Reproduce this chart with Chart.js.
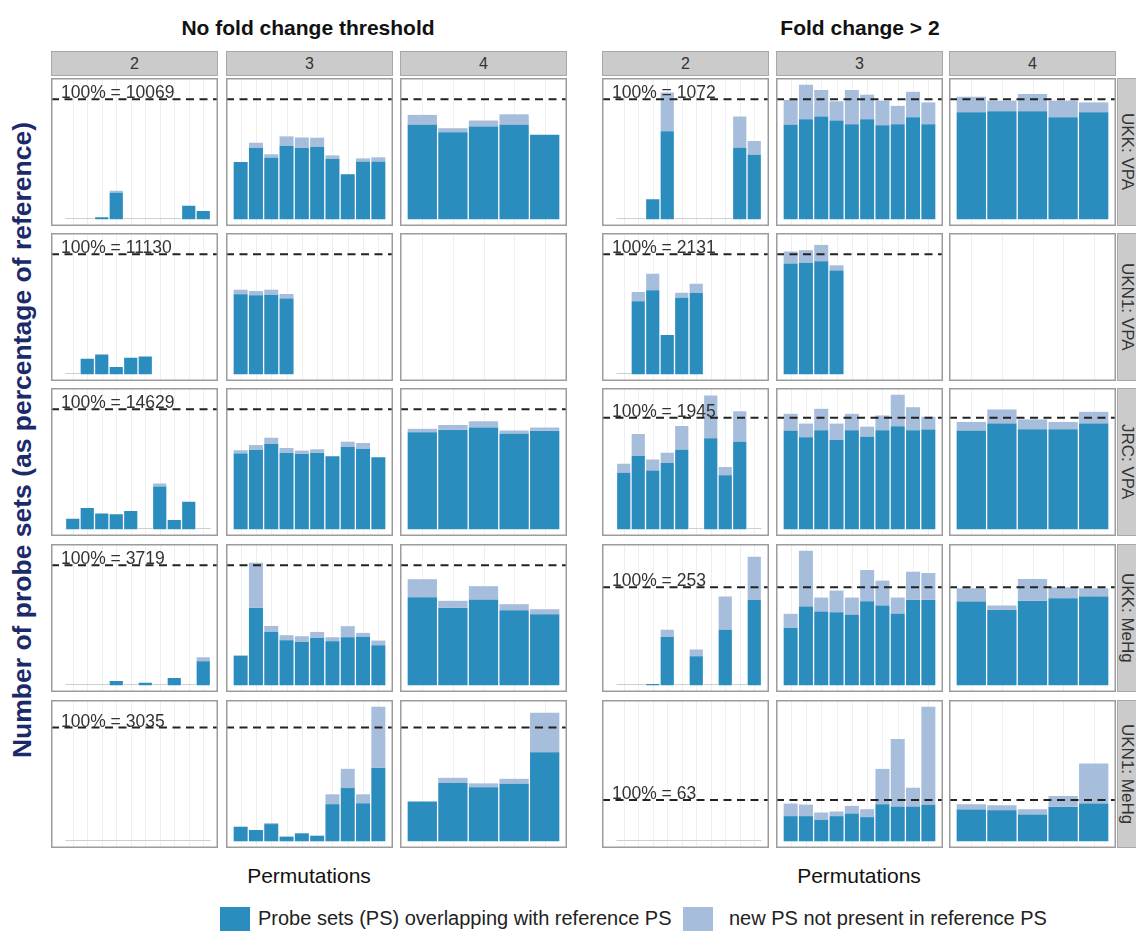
<!DOCTYPE html>
<html><head><meta charset="utf-8">
<script src="https://cdn.jsdelivr.net/npm/chart.js@4"></script>
<style>
html,body{margin:0;padding:0}
body{width:1136px;height:931px;overflow:hidden;background:#fff;font-family:"Liberation Sans",Arial,Helvetica,sans-serif;position:relative;color:#222}
.abs{position:absolute}
.strip{position:absolute;background:#cbcbcb;border:1px solid #a8a8a8;box-sizing:border-box;color:#333;font-size:16px;display:flex;align-items:center;justify-content:center}
.vstrip{writing-mode:vertical-rl;font-size:17px}
.panel{position:absolute}
.panel canvas{display:block}
.ttl{position:absolute;font-weight:bold;font-size:21px;text-align:center;color:#111}
.xl{position:absolute;font-size:21px;text-align:center;color:#111}
.lg{position:absolute;font-size:20px;color:#222;white-space:nowrap}
</style>
</head><body>
<script>
// ---------- DATA ----------
const permutationSizes = ['2', '3', '4'];
const groups = ['UKK: VPA', 'UKN1: VPA', 'JRC: VPA', 'UKK: MeHg', 'UKN1: MeHg'];
const halfTitles = ['No fold change threshold', 'Fold change > 2'];
const refCountsNoFC = [10069, 11130, 14629, 3719, 3035];
const refCountsFC2 = [1072, 2131, 1945, 253, 63];
const permLabels2 = ['P1','P2','P3','P4','P5','P6','P7','P8','P9','P10'];
const permLabels3 = ['P1','P2','P3','P4','P5','P6','P7','P8','P9','P10'];
const permLabels4 = ['P1','P2','P3','P4','P5'];
const seriesNames = ['Probe sets (PS) overlapping with reference PS', 'new PS not present in reference PS'];

// values in % of reference; [size 2 (10), size 3 (10), size 4 (5)]; null = no permutation
const noFC_UKK_VPA_overlap = [[0,0,1.6,22,0,0,0,0,11.3,6.9],[47.7,59.3,51.3,61.3,59.3,60.4,50.2,37.5,48,48],[78.6,72.5,77.2,78.6,70.4]];
const noFC_UKK_VPA_new     = [[0,0,0,1.7,0,0,0,0,0,0],[0,4.4,2.8,7.7,8.8,7.5,3,0,2.7,3.6],[8.3,3.3,5,8.8,0]];
const noFC_UKN1_VPA_overlap = [[0,12.9,16.4,6,13.7,14.8,null,null,null,null],[66.6,65.8,66.3,63,null,null,null,null,null,null],[null,null,null,null,null]];
const noFC_UKN1_VPA_new     = [[0,0,0,0,0,0,null,null,null,null],[3.8,3.5,4.1,3.8,null,null,null,null,null,null],[null,null,null,null,null]];
const noFC_JRC_VPA_overlap = [[8.8,17.8,13.2,12.6,15.3,0,35.6,7.7,23,0],[63,66.3,71,63.8,62.7,63.8,60.8,68.5,67.1,60],[80.8,82.7,84.7,79.5,81.9]];
const noFC_JRC_VPA_new     = [[0,0,0,0,0,0,2.5,0,0,0],[2.8,3.8,5.2,3.9,2.8,2.8,0,4.4,4.7,0],[2.8,4.1,5.2,2.7,2.8]];
const noFC_UKK_MeHg_overlap = [[0,0,0,3.6,0,2.2,0,6.1,0,20],[24.7,64.4,44.4,37.5,36.1,39.4,36.7,40,40.3,33.3],[73.3,64.4,71.1,62.5,59.2]];
const noFC_UKK_MeHg_new     = [[0,0,0,0,0,0,0,0,0,3.3],[0,37.6,5,4.2,4.7,5,3.3,9.2,3.3,3.9],[15,5.9,11.4,5,4.1]];
const noFC_UKN1_MeHg_overlap = [[0,0,0,0,0,0,0,0,0,0],[12.8,9.9,15.1,4.1,7,4.9,32.6,46.8,33.4,64.5],[34.9,51.2,47.4,50.6,78.2]];
const noFC_UKN1_MeHg_new     = [[0,0,0,0,0,0,0,0,0,0],[0,0,0.9,0,0,0,8.7,16.9,7.9,53.8],[0,4.6,3.5,4.3,34.9]];

const fc2_UKK_VPA_overlap = [[0,0,16.6,73.3,0,0,0,0,59.6,53.8],[78.6,83.3,85.5,82.2,79.1,83.3,78.3,79.1,84.9,79.1],[89.1,89.9,89.9,84.9,89.1]];
const fc2_UKK_VPA_new     = [[0,0,0,32.3,0,0,0,0,25.9,11.3],[20.7,28.7,22.1,16,28.5,20.4,20.5,15.3,21.2,18.2],[12.9,8.9,14.4,13.9,8.2]];
const fc2_UKN1_VPA_overlap = [[0,60.8,69.9,32.6,63.6,67.7,null,null,null,null],[92.3,92.9,94,86.3,null,null,null,null,null,null],[null,null,null,null,null]];
const fc2_UKN1_VPA_new     = [[0,7.7,13.7,0,4.3,7.6,null,null,null,null],[9.9,10.4,13.7,4.4,null,null,null,null,null,null],[null,null,null,null,null]];
const fc2_JRC_VPA_overlap = [[50.6,65.6,52.6,59.4,71.2,0,81.5,48.5,78.5,0],[88.2,82.4,88.8,80,88.8,82.9,88.8,92.4,88.8,89.4],[88.2,94.7,89.7,89.7,94.7]];
const fc2_JRC_VPA_new     = [[8.2,19.7,10,9.1,21.4,0,38.5,7.4,27.4,0],[15.3,12.3,19.2,14.7,14.7,9.1,13.2,28.2,20.6,11.5],[8,12.7,8.8,6.5,10.6]];
const fc2_UKK_MeHg_overlap = [[0,0,1.4,49.2,0,29.5,0,56.6,0,87.1],[58.6,80.3,75.3,74.6,71.9,85.8,81.4,72.9,87.1,87.1],[85.4,76.9,86.1,88.8,90.5]];
const fc2_UKK_MeHg_new     = [[0,0,0,7.4,0,7.1,0,33.9,0,44.1],[14.3,57,14.2,22,17.6,31.8,25.4,16.6,28.8,27.5],[13.6,4.5,22.4,11.2,8.5]];
const fc2_UKN1_MeHg_overlap = [[0,0,0,0,0,0,0,0,0,0],[60.8,60.8,52,60.8,67.2,58.4,89.6,84,84,88],[76.8,75.2,64.8,83.2,91.2]];
const fc2_UKN1_MeHg_new     = [[0,0,0,0,0,0,0,0,0,0],[30.4,28,17.6,11.2,18.4,19.2,85.6,163.2,45.6,237.6],[12.8,12,12.8,26.4,96.8]];

// ---------- STYLE / LAYOUT ----------
const COL_OVERLAP = '#2b8cbe';
const COL_NEW = '#a6bddb';
const PANEL_W = 167, PANEL_H = 148;
const ROW_Y = [78, 233, 388, 544, 700];
const STRIP_Y = 51, STRIP_H = 25;

const halves = [
  { xs: [51, 226, 400], refs: refCountsNoFC,
    overlap: [noFC_UKK_VPA_overlap, noFC_UKN1_VPA_overlap, noFC_JRC_VPA_overlap, noFC_UKK_MeHg_overlap, noFC_UKN1_MeHg_overlap],
    fresh:   [noFC_UKK_VPA_new, noFC_UKN1_VPA_new, noFC_JRC_VPA_new, noFC_UKK_MeHg_new, noFC_UKN1_MeHg_new],
    titleX: 308, xlabX: 309, rowStrips: false },
  { xs: [602, 776, 949], refs: refCountsFC2,
    overlap: [fc2_UKK_VPA_overlap, fc2_UKN1_VPA_overlap, fc2_JRC_VPA_overlap, fc2_UKK_MeHg_overlap, fc2_UKN1_MeHg_overlap],
    fresh:   [fc2_UKK_VPA_new, fc2_UKN1_VPA_new, fc2_JRC_VPA_new, fc2_UKK_MeHg_new, fc2_UKN1_MeHg_new],
    titleX: 860, xlabX: 859, rowStrips: true }
];
const labelSets = [permLabels2, permLabels3, permLabels4];

function el(cls, css, text) {
  const d = document.createElement('div');
  if (cls) d.className = cls;
  Object.assign(d.style, css);
  if (text !== undefined) d.textContent = text;
  document.body.appendChild(d);
  return d;
}

// y-axis title
el('abs', { left: (22 - 360) + 'px', top: (440 - 16) + 'px', width: '720px', height: '32px', lineHeight: '32px',
  textAlign: 'center', transform: 'rotate(-90deg)', fontWeight: 'bold', fontSize: '26.5px', color: '#1b2a6b', whiteSpace: 'nowrap' },
  'Number of probe sets (as percentage of reference)');

const panelPlugin = {
  id: 'panelDeco',
  beforeDatasetsDraw(chart) {
    const { ctx, scales: { x } } = chart;
    const n = chart.data.labels.length;
    ctx.save();
    ctx.strokeStyle = '#efefef';
    ctx.lineWidth = 1;
    for (let i = 0; i < n; i++) {
      const px = Math.round(x.getPixelForValue(i)) + 0.5;
      ctx.beginPath(); ctx.moveTo(px, 0); ctx.lineTo(px, chart.height); ctx.stroke();
    }
    ctx.restore();
  },
  afterDatasetsDraw(chart, args, opts) {
    const { ctx, scales: { y } } = chart;
    ctx.save();
    // zero-valued permutations: thin baseline
    const m0 = chart.getDatasetMeta(0);
    const d0 = chart.data.datasets[0].data, d1 = chart.data.datasets[1].data;
    ctx.strokeStyle = '#cfcfcf';
    ctx.lineWidth = 1;
    const by = Math.round(y.getPixelForValue(0)) - 0.5;
    m0.data.forEach((bar, i) => {
      if (d0[i] === 0 && !d1[i]) {
        const w = chart.scales.x.getPixelForValue(1) - chart.scales.x.getPixelForValue(0);
        ctx.beginPath(); ctx.moveTo(bar.x - w / 2, by); ctx.lineTo(bar.x + w / 2, by); ctx.stroke();
      }
    });
    if (opts.hasData) {
      const yy = y.getPixelForValue(100);
      ctx.strokeStyle = '#222';
      ctx.lineWidth = 2;
      ctx.setLineDash([8, 5.5]);
      ctx.beginPath(); ctx.moveTo(0, yy); ctx.lineTo(chart.width, yy); ctx.stroke();
      ctx.setLineDash([]);
      if (opts.label) {
        ctx.fillStyle = '#333';
        ctx.font = '17.5px "Liberation Sans", Arial, sans-serif';
        ctx.textBaseline = 'alphabetic';
        ctx.fillText(opts.label, 10, yy - 1);
      }
    }
    // panel border
    ctx.strokeStyle = '#9c9c9c';
    ctx.lineWidth = 1.5;
    ctx.strokeRect(0.75, 0.75, chart.width - 1.5, chart.height - 1.5);
    ctx.restore();
  }
};

halves.forEach((H, hi) => {
  el('ttl', { left: (H.titleX - 300) + 'px', top: '15px', width: '600px', lineHeight: '26px' }, halfTitles[hi]);
  el('xl', { left: (H.xlabX - 200) + 'px', top: '863px', width: '400px', lineHeight: '26px' }, 'Permutations');
  // column strips
  permutationSizes.forEach((s, ci) => {
    el('strip', { left: H.xs[ci] + 'px', top: STRIP_Y + 'px', width: PANEL_W + 'px', height: STRIP_H + 'px' }, s);
  });
  groups.forEach((g, ri) => {
    const ov = H.overlap[ri], nw = H.fresh[ri];
    // shared y range per row (free_y facets)
    let M = 112;
    for (let c = 0; c < 3; c++) ov[c].forEach((v, i) => { if (v !== null) M = Math.max(M, v + (nw[c][i] || 0)); });
    if (H.rowStrips) {
      const s = el('strip', { left: '1117px', top: ROW_Y[ri] + 'px', width: '26px', height: PANEL_H + 'px' });
      const t = document.createElement('span');
      t.textContent = g;
      Object.assign(t.style, { writingMode: 'vertical-rl', fontSize: '17px', whiteSpace: 'nowrap', marginRight: '6px' });
      s.appendChild(t);
    }
    for (let c = 0; c < 3; c++) {
      const wrap = el('panel', { left: H.xs[c] + 'px', top: ROW_Y[ri] + 'px', width: PANEL_W + 'px', height: PANEL_H + 'px' });
      const cv = document.createElement('canvas');
      cv.width = PANEL_W; cv.height = PANEL_H;
      cv.style.width = PANEL_W + 'px'; cv.style.height = PANEL_H + 'px';
      wrap.appendChild(cv);
      const hasData = ov[c].some(v => v !== null);
      const padL = c === 0 ? 14.5 : 7, padR = c === 0 ? 7.5 : 7;
      const n = labelSets[c].length;
      const slot = (PANEL_W - padL - padR) / n;
      new Chart(cv, {
        type: 'bar',
        data: {
          labels: labelSets[c],
          datasets: [
            { label: seriesNames[0], data: ov[c], backgroundColor: COL_OVERLAP, borderWidth: 0 },
            { label: seriesNames[1], data: nw[c], backgroundColor: COL_NEW, borderWidth: 0 }
          ]
        },
        options: {
          responsive: false, animation: false, devicePixelRatio: 1,
          layout: { padding: { left: padL, right: padR, top: 0, bottom: 0 } },
          datasets: { bar: { categoryPercentage: 1, barPercentage: 1 - 1.3 / slot } },
          scales: {
            x: { display: false, stacked: true, offset: true },
            y: { display: false, stacked: true, min: -0.05 * M, max: 1.05 * M }
          },
          plugins: {
            legend: { display: false }, tooltip: { enabled: false },
            panelDeco: { hasData, label: c === 0 ? ('100% = ' + H.refs[ri]) : null }
          }
        },
        plugins: [panelPlugin]
      });
    }
  });
});

// legend
el('abs', { left: '220px', top: '907px', width: '30px', height: '24px', background: COL_OVERLAP });
el('lg', { left: '258px', top: '906px', lineHeight: '24px' }, seriesNames[0]);
el('abs', { left: '683px', top: '907px', width: '30px', height: '24px', background: COL_NEW });
el('lg', { left: '729px', top: '906px', lineHeight: '24px' }, seriesNames[1]);
</script>
</body></html>
